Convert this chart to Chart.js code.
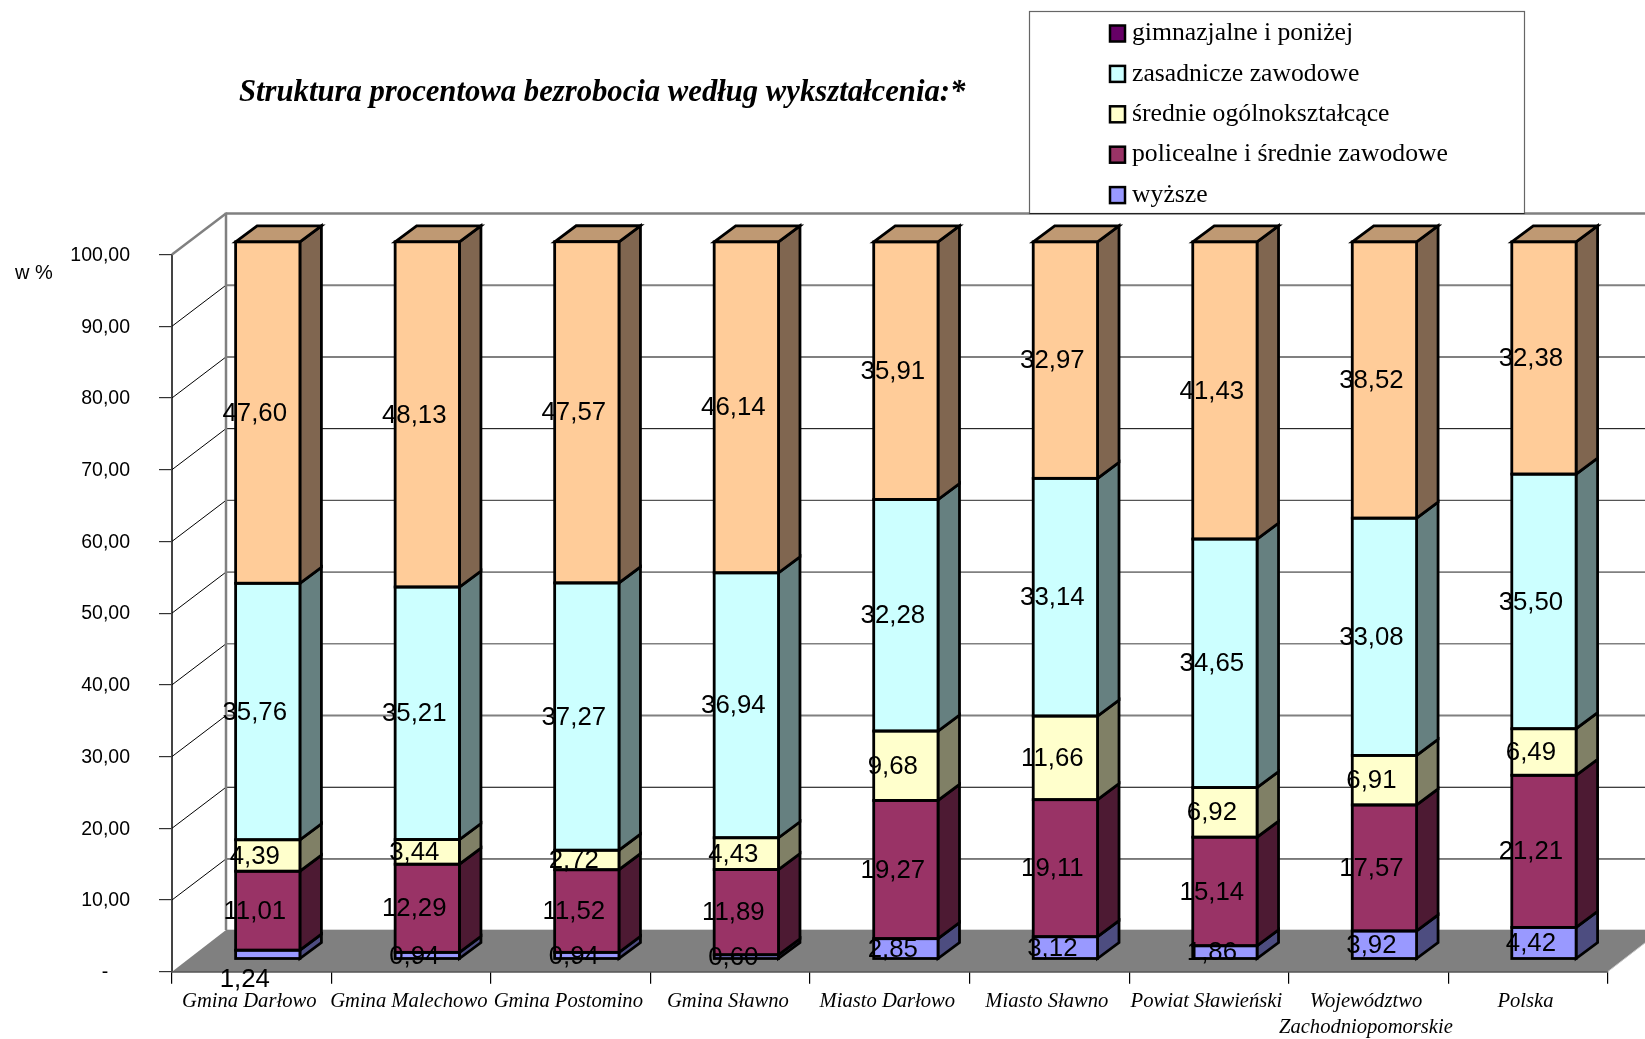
<!DOCTYPE html>
<html><head><meta charset="utf-8">
<style>html,body{margin:0;padding:0;background:#fff}canvas{display:block}#w{width:1645px;height:1039px;position:relative}</style>
<script src="https://cdn.jsdelivr.net/npm/chart.js@4"></script>
</head><body><div id="w"><canvas id="c" width="1645" height="1039"></canvas></div>
<script>
const categories = ['Gmina Darłowo','Gmina Malechowo','Gmina Postomino','Gmina Sławno','Miasto Darłowo','Miasto Sławno','Powiat Sławieński',['Województwo','Zachodniopomorskie'],'Polska'];
const wyzsze = [1.24,0.94,0.94,0.60,2.85,3.12,1.86,3.92,4.42];
const policealne = [11.01,12.29,11.52,11.89,19.27,19.11,15.14,17.57,21.21];
const srednieOgolne = [4.39,3.44,2.72,4.43,9.68,11.66,6.92,6.91,6.49];
const zasadnicze = [35.76,35.21,37.27,36.94,32.28,33.14,34.65,33.08,35.50];
const gimnazjalne = [47.60,48.13,47.57,46.14,35.91,32.97,41.43,38.52,32.38];
const legendLabels = ['gimnazjalne i poniżej','zasadnicze zawodowe','średnie ogólnokształcące','policealne i średnie zawodowe','wyższe'];
const legendColors = ['#660066','#CCFFFF','#FFFFCC','#993366','#9999FF'];
const titleText = 'Struktura procentowa bezrobocia według wykształcenia:*';
const axisUnit = 'w %';

const DX0=16, DY0=12.6, DX=21.5, DY=16, WX=54, WY=41;
const fmt = v => v.toFixed(2).replace('.',',');
const series = [
 {label:'wyższe',data:wyzsze,backgroundColor:'#9999FF',side:'#4D4D80'},
 {label:'policealne i średnie zawodowe',data:policealne,backgroundColor:'#993366',side:'#4D1A33'},
 {label:'średnie ogólnokształcące',data:srednieOgolne,backgroundColor:'#FFFFCC',side:'#808066'},
 {label:'zasadnicze zawodowe',data:zasadnicze,backgroundColor:'#CCFFFF',side:'#668080'},
 {label:'gimnazjalne i poniżej',data:gimnazjalne,backgroundColor:'#FFCC99',side:'#806650',top:'#BF9973'}
];
const gridStyle = {90:['#808080',2],80:['#808080',2],70:['#000',1],60:['#555',1.2],50:['#808080',1.6],40:['#808080',1.6],30:['#808080',2],20:['#000',1],10:['#000',1],100:['#808080',2.5]};
function poly(ctx,pts,fill,stroke,lw){ctx.beginPath();pts.forEach((p,i)=>i?ctx.lineTo(p[0],p[1]):ctx.moveTo(p[0],p[1]));ctx.closePath();if(fill){ctx.fillStyle=fill;ctx.fill();}if(stroke){ctx.strokeStyle=stroke;ctx.lineWidth=lw;ctx.stroke();}}
function line(ctx,x1,y1,x2,y2,c,w){ctx.beginPath();ctx.moveTo(x1,y1);ctx.lineTo(x2,y2);ctx.strokeStyle=c;ctx.lineWidth=w;ctx.stroke();}
const scene = {
 id:'scene',
 beforeDatasetsDraw(chart){
  const ctx=chart.ctx,a=chart.chartArea,y=chart.scales.y;
  ctx.save();
  const L=a.left,R=a.right,T=y.getPixelForValue(100),B=y.getPixelForValue(0),FY=B-41.7;
  // floor
  poly(ctx,[[L,B],[L+WX,FY],[R+WX,FY],[R,B]],'#808080');
  line(ctx,R,B,R+WX,FY,'#C8C8C8',1);
  line(ctx,L+WX,FY-0.5,R+WX,FY-0.5,'#D8D8D8',1);
  // walls
  y.ticks.forEach(t=>{
   if(t.value===0) return;
   const p=y.getPixelForValue(t.value);
   const st=gridStyle[t.value];
   if(t.value===100) line(ctx,L,p,L+WX,p-WY,st[0],st[1]); else line(ctx,L,p,L+WX,p-WY,'#000',1);
   line(ctx,L+WX,p-WY,R+WX,p-WY,st[0],st[1]);
  });
  line(ctx,L+WX,T-WY-1,L+WX,FY,'#808080',2.5);
  ctx.restore();
  // side faces
  ctx.save();
  ctx.translate(DX0,-DY0);
  ctx.lineJoin='miter';
  chart.data.datasets.forEach((ds,i)=>{
   chart.getDatasetMeta(i).data.forEach(el=>{
    const {x,y:py,base,width}=el.getProps(['x','y','base','width'],true);
    const r=x+width/2,l=x-width/2;
    poly(ctx,[[r,py],[r+DX,py-DY],[r+DX,base-DY],[r,base]],ds.side,'#000',2.8);
    if(ds.top) poly(ctx,[[l,py],[l+DX,py-DY],[r+DX,py-DY],[r,py]],ds.top,'#000',2.8);
   });
  });
  // bars themselves are drawn by Chart.js inside this translation
 },
 afterDatasetsDraw(chart){
  const ctx=chart.ctx;
  chart.data.datasets.forEach((ds,i)=>{
   chart.getDatasetMeta(i).data.forEach(el=>{
    const {x,y:py,base,width}=el.getProps(['x','y','base','width'],true);
    ctx.strokeStyle='#000';ctx.lineWidth=2.8;ctx.strokeRect(x-width/2,py,width,base-py);
   });
  });
  ctx.restore();
  ctx.save();
  ctx.fillStyle='#000';ctx.textAlign='center';ctx.textBaseline='middle';ctx.font='25.8px "Liberation Sans"';
  chart.data.datasets.forEach((ds,i)=>{
   chart.getDatasetMeta(i).data.forEach((el,j)=>{
    const {x,y:py,base}=el.getProps(['x','y','base'],true);
    const v=ds.data[j];
    let tx=x+DX0-13, ty=(py+base)/2-DY0+1;
    if(i===0&&j===0){tx=x+DX0-23;ty+=25;}
    ctx.fillText(fmt(v),tx,ty);
   });
  });
  ctx.restore();
 },
 afterDraw(chart){
  const ctx=chart.ctx;
  ctx.save();
  // legend
  ctx.fillStyle='#fff';ctx.fillRect(1029.5,11.5,495,202);
  ctx.strokeStyle='#666';ctx.lineWidth=1.2;ctx.strokeRect(1029.5,11.5,495,202);
  line(ctx,1029.5,213.5,1524.5,213.5,'#222',1.2);
  ctx.textAlign='left';ctx.textBaseline='middle';ctx.font='25.7px "Liberation Serif"';
  legendLabels.forEach((t,i)=>{
   const cy=33.5+i*40.4;
   ctx.fillStyle=legendColors[i];ctx.fillRect(1110,cy-8,15,16);
   ctx.strokeStyle='#000';ctx.lineWidth=2.5;ctx.strokeRect(1110,cy-8,15,16);
   ctx.fillStyle='#000';ctx.fillText(t,1132,cy);
  });
  // title
  ctx.font='italic bold 30.7px "Liberation Serif"';ctx.fillText(titleText,239,93);
  // unit
  ctx.font='20px "Liberation Sans"';ctx.fillText(axisUnit,15,273);
  ctx.restore();
 }
};
new Chart(document.getElementById('c'),{
 type:'bar',
 data:{labels:categories,datasets:series.map(s=>({...s,borderWidth:0,clip:false,barPercentage:0.403,categoryPercentage:1}))},
 plugins:[scene],
 options:{
  responsive:false,animation:false,devicePixelRatio:1,
  layout:{padding:{left:0,right:37.3,top:254.5,bottom:0}},
  plugins:{legend:{display:false},tooltip:{enabled:false}},
  scales:{
   x:{stacked:true,offset:true,afterFit(s){s.height=67.3;},
      grid:{drawOnChartArea:false,offset:true,tickLength:12,color:'#000',lineWidth:1.2},
      border:{color:'#000',width:1.5},
      ticks:{autoSkip:false,maxRotation:0,minRotation:0,padding:5,labelOffset:-2.5,color:'#000',font:{family:'"Liberation Serif"',style:'italic',size:20.6,lineHeight:1.27}}},
   y:{stacked:true,min:0,max:100,afterFit(s){s.width=172;},
      grid:{drawOnChartArea:false,tickLength:13,color:'#333',lineWidth:1.2},
      border:{color:'#444',width:2},
      ticks:{stepSize:10,padding:29,labelOffset:1,color:'#000',font:{family:'"Liberation Sans"',size:19.5},callback:v=>v===0?'-    ':fmt(v)}}
  }
 }
});
</script></body></html>
